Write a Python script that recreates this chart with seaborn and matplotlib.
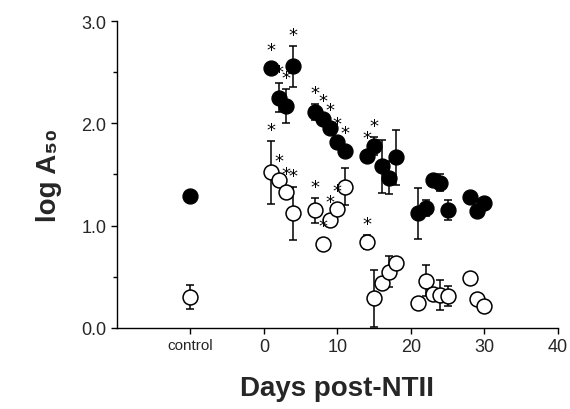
import numpy as np
import pandas as pd
import matplotlib
matplotlib.use("Agg")
import matplotlib.pyplot as plt
import seaborn as sns

# ---- data (control plotted at x = -10) ----
filled_day = [-10, 1, 2, 3, 4, 7, 8, 9, 10, 11, 14, 15, 16, 17, 18, 21, 22, 23, 24, 25, 28, 29, 30]
filled_val = [1.29, 2.54, 2.25, 2.17, 2.56, 2.11, 2.04, 1.95, 1.82, 1.73, 1.68, 1.78, 1.58, 1.47, 1.67,
              1.12, 1.17, 1.45, 1.42, 1.15, 1.28, 1.14, 1.22]
filled_err = [0, 0, 0.14, 0.17, 0.20, 0.08, 0, 0, 0, 0, 0, 0.09, 0.26, 0.16, 0.27,
              0.25, 0.08, 0, 0.08, 0.10, 0, 0, 0]
filled_star = [0, 1, 1, 1, 1, 1, 1, 1, 1, 1, 1, 1, 0, 0, 0, 0, 0, 0, 0, 0, 0, 0, 0]

open_day = [-10, 1, 2, 3, 4, 7, 8, 9, 10, 11, 14, 15, 16, 17, 18, 21, 22, 23, 24, 25, 28, 29, 30]
open_val = [0.30, 1.52, 1.45, 1.33, 1.12, 1.15, 0.82, 1.05, 1.16, 1.38, 0.84, 0.29, 0.44, 0.55, 0.63,
            0.24, 0.46, 0.33, 0.32, 0.31, 0.49, 0.28, 0.21]
open_err = [0.12, 0.31, 0.05, 0, 0.26, 0.12, 0.05, 0, 0, 0.18, 0.07, 0.28, 0, 0.15, 0,
            0, 0.15, 0, 0.15, 0.10, 0, 0, 0]
open_star = [0, 1, 1, 1, 1, 1, 1, 1, 1, 1, 1, 0, 0, 0, 0, 0, 0, 0, 0, 0, 0, 0, 0]

x_ticks = [-10, 0, 10, 20, 30, 40]
x_ticklabels = ["control", "0", "10", "20", "30", "40"]
y_ticks = [0.0, 1.0, 2.0, 3.0]

filled = pd.DataFrame({"day": filled_day, "val": filled_val, "err": filled_err, "star": filled_star})
hollow = pd.DataFrame({"day": open_day, "val": open_val, "err": open_err, "star": open_star})

sns.set_style("ticks")
plt.rcParams["font.family"] = ["Liberation Sans", "DejaVu Sans"]

fig = plt.figure(figsize=(5.7, 4.1), dpi=100)
ax = fig.add_axes([0.205, 0.198, 0.774, 0.748])

for d in (filled, hollow):
    e = d[d["err"] > 0]
    ax.errorbar(e["day"], e["val"], yerr=e["err"], fmt="none", ecolor="black",
                elinewidth=1.1, capsize=3, capthick=1.1, zorder=2)

sns.scatterplot(data=filled, x="day", y="val", ax=ax, color="black", edgecolor="black",
                s=115, linewidth=1, zorder=3, legend=False)
sns.scatterplot(data=hollow, x="day", y="val", ax=ax, color="white", edgecolor="black",
                s=115, linewidth=1.1, zorder=3, legend=False)

# significance asterisks above the marked points
for d in (filled, hollow):
    for _, r in d[d["star"] == 1].iterrows():
        top = r["val"] + max(r["err"], 0.07)
        ax.text(r["day"], top + 0.02, "*", ha="center", va="bottom", fontsize=13,
                family="DejaVu Sans", color="black", zorder=4)

ax.set_xlim(-20, 40)
ax.set_ylim(0, 3.0)
ax.set_xticks(x_ticks)
ax.set_xticklabels(x_ticklabels)
ax.set_yticks(y_ticks)
ax.set_yticklabels([f"{v:.1f}" for v in y_ticks])
ax.set_yticks([0.5, 1.5, 2.5], minor=True)
for lab in ax.get_xticklabels():
    lab.set_fontsize(11 if lab.get_text() == "control" else 13)
ax.tick_params(axis="y", labelsize=13)
ax.tick_params(axis="both", which="both", direction="out", length=4, width=1, color="black")
ax.tick_params(axis="y", which="minor", length=3)

sns.despine(ax=ax)
for s in ("left", "bottom"):
    ax.spines[s].set_linewidth(1)
    ax.spines[s].set_color("black")

ax.set_xlabel("Days post-NTII", fontsize=20, fontweight="bold", labelpad=14)
ax.set_ylabel("log A\u2085\u2080", fontsize=20, fontweight="bold", labelpad=14)

fig.savefig("out.png", dpi=100)
